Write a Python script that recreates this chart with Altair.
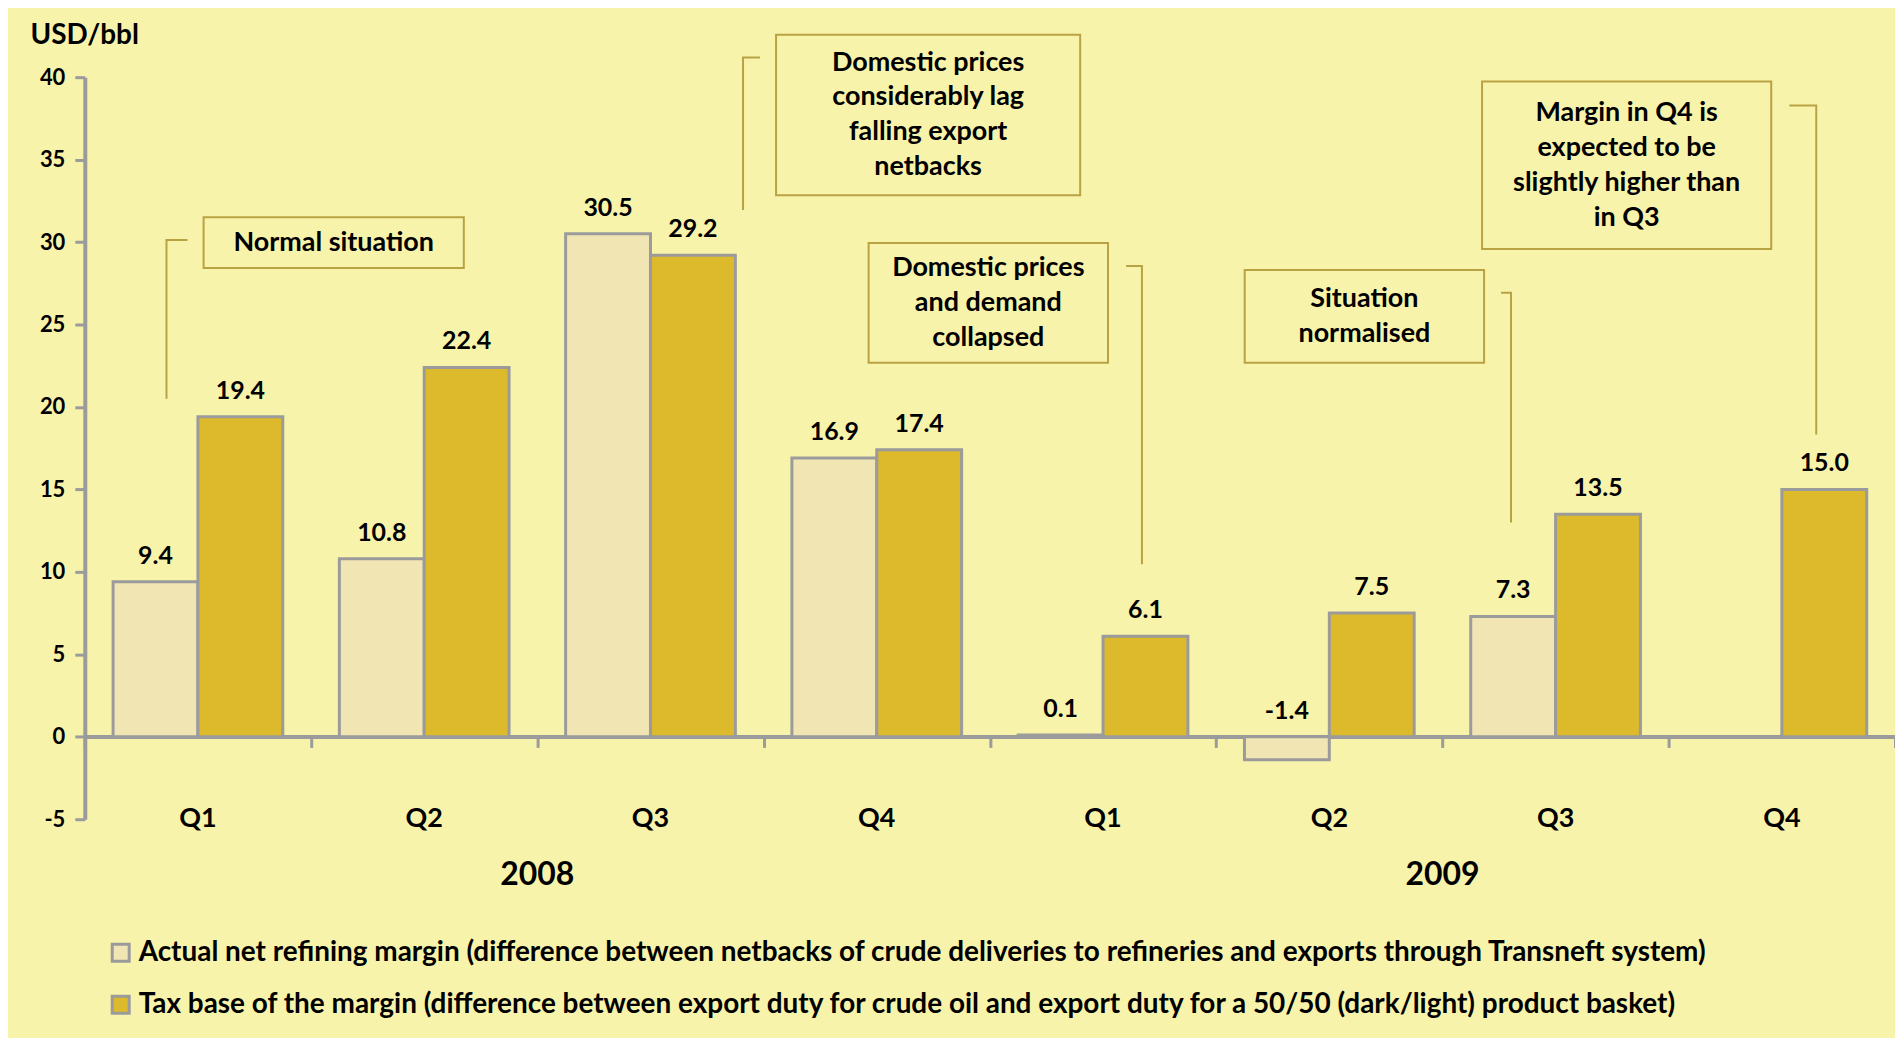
import altair as alt
import pandas as pd

# ---------------- data ----------------
quarters = ["Q1", "Q2", "Q3", "Q4", "Q1", "Q2", "Q3", "Q4"]
years = ["2008", "2009"]
actual_margin = [9.4, 10.8, 30.5, 16.9, 0.1, -1.4, 7.3, None]
tax_base = [19.4, 22.4, 29.2, 17.4, 6.1, 7.5, 13.5, 15.0]
series_names = [
    "Actual net refining margin (difference between netbacks of crude deliveries to refineries and exports through Transneft system)",
    "Tax base of the margin (difference between export duty for crude oil and export duty for a 50/50 (dark/light) product basket)",
]
notes = [
    "Normal situation",
    "Domestic prices\nconsiderably lag\nfalling export\nnetbacks",
    "Domestic prices\nand demand\ncollapsed",
    "Situation\nnormalised",
    "Margin in Q4 is\nexpected to be\nslightly higher than\nin Q3",
]

# ---------------- layout (data units) ----------------
# note boxes: x0, x1, y_top, y_bottom
note_boxes = [
    (0.525, 1.675, 31.51, 28.43),
    (3.055, 4.399, 42.58, 32.84),
    (3.464, 4.522, 29.94, 22.68),
    (5.126, 6.184, 28.31, 22.68),
    (6.175, 7.453, 39.74, 29.58),
]
# leader lines: x of horizontal end, y of horizontal, x of vertical, y of vertical end
leaders = [
    (0.454, 30.12, 0.361, 20.5),
    (2.984, 41.19, 2.909, 31.94),
    (4.602, 28.55, 4.672, 10.46),
    (6.259, 26.92, 6.303, 13.0),
    (7.533, 38.29, 7.652, 18.33),
]

W, H = 1815, 744
YMIN, YMAX = -5, 40
LINE_H = 35
LH_UNITS = LINE_H / (H / (YMAX - YMIN))

BG = "#F8F3AA"
LIGHT = "#F1E6B3"
DARK = "#DDBA2B"
GREY = "#9B9B9B"
LINE = "#B9A244"
FONT = "Lato"

rows = []
for i in range(len(quarters)):
    for s, vals, off in [(0, actual_margin, 0.125), (1, tax_base, 0.5)]:
        v = vals[i]
        if v is None:
            continue
        rows.append(dict(series=series_names[s], x0=i + off, x1=i + off + 0.375,
                         xc=i + off + 0.1875, v=v, ly=max(v, 0.0), label=f"{v:.1f}"))
bars = pd.DataFrame(rows)

qdf = pd.DataFrame(dict(x=[i + 0.5 for i in range(len(quarters))], y=[-4.98] * len(quarters), t=quarters))
ydf = pd.DataFrame(dict(x=[2.0, 6.0], y=[-8.4, -8.4], t=years))

boxes = pd.DataFrame([dict(x0=b[0], x1=b[1], y0=b[2], y1=b[3], t=n,
                           tx=(b[0] + b[1]) / 2,
                           ty=(b[2] + b[3]) / 2 + (n.count("\n")) / 2 * LH_UNITS)
                      for b, n in zip(note_boxes, notes)])
lrows = []
for k, (hx, hy, vx, vy) in enumerate(leaders):
    lrows += [dict(id=k, o=0, x=hx, y=hy), dict(id=k, o=1, x=vx, y=hy), dict(id=k, o=2, x=vx, y=vy)]
ldf = pd.DataFrame(lrows)

xscale = alt.Scale(domain=[0, 8], nice=False, zero=False)
yscale = alt.Scale(domain=[YMIN, YMAX], nice=False, zero=False)
xaxis = alt.Axis(values=list(range(9)), labels=False, title=None, offset=-83, tickSize=11,
                 tickWidth=3, tickColor=GREY, domainColor=GREY, domainWidth=4, grid=False)
yaxis = alt.Axis(values=list(range(-5, 41, 5)), title="USD/bbl", titleAngle=0, titleX=-55, titleY=-42,
                 titleAlign="left", titleBaseline="middle", titleFont=FONT, titleFontSize=28,
                 titleFontWeight="bold", titleColor="black",
                 labelExpr="datum.value + ''",
                 labelFont=FONT, labelFontSize=22, labelFontWeight="bold", labelColor="black",
                 tickSize=10, tickWidth=3, tickColor=GREY, domainColor=GREY, domainWidth=4,
                 labelPadding=10, grid=False)


def X(f):
    return alt.X(f, type="quantitative", scale=xscale, axis=xaxis)


def Y(f):
    return alt.Y(f, type="quantitative", scale=yscale, axis=yaxis)


bar_layer = alt.Chart(bars).mark_bar(stroke=GREY, strokeWidth=3).encode(
    x=X("x0"), x2="x1", y=Y("v"), y2=alt.datum(0),
    color=alt.Color("series:N", scale=alt.Scale(domain=series_names, range=[LIGHT, DARK]),
                    legend=alt.Legend(orient="none", legendX=22, legendY=864, title=None,
                                      direction="vertical", symbolType="square", symbolSize=290,
                                      symbolStrokeColor=GREY, symbolStrokeWidth=3, symbolOpacity=1,
                                      labelFont=FONT, labelFontSize=28, labelFontWeight="bold",
                                      labelColor="black", labelLimit=0, labelOffset=4,
                                      rowPadding=22, padding=0)),
)

val_layer = alt.Chart(bars).mark_text(dy=-26, font=FONT, fontSize=25, fontWeight="bold", color="black").encode(
    x=X("xc"), y=Y("ly"), text="label:N")

q_layer = alt.Chart(qdf).mark_text(font=FONT, fontSize=27, fontWeight="bold", color="black", baseline="middle").encode(
    x=X("x"), y=Y("y"), text="t:N")
yr_layer = alt.Chart(ydf).mark_text(font=FONT, fontSize=32, fontWeight="bold", color="black", baseline="middle").encode(
    x=X("x"), y=Y("y"), text="t:N")

box_layer = alt.Chart(boxes).mark_rect(fill=BG, fillOpacity=0, stroke=LINE, strokeWidth=2).encode(
    x=X("x0"), x2="x1", y=Y("y0"), y2="y1")
note_layer = alt.Chart(boxes).mark_text(font=FONT, fontSize=27, fontWeight="bold", color="black",
                                        lineBreak="\n", lineHeight=LINE_H, baseline="middle", align="center").encode(
    x=X("tx"), y=Y("ty"), text="t:N")
leader_layer = alt.Chart(ldf).mark_line(color=LINE, strokeWidth=2).encode(
    x=X("x"), y=Y("y"), detail="id:N", order="o:Q")

chart = alt.layer(bar_layer, val_layer, q_layer, yr_layer, box_layer, note_layer, leader_layer).properties(
    width=W, height=H,
    padding={"left": 77, "top": 68, "right": 0, "bottom": 218},
    autosize=alt.AutoSizeParams(type="none"),
    background=BG,
).configure_view(stroke=None)

chart.save("out.html", embed_options={"renderer": "svg", "actions": False})
